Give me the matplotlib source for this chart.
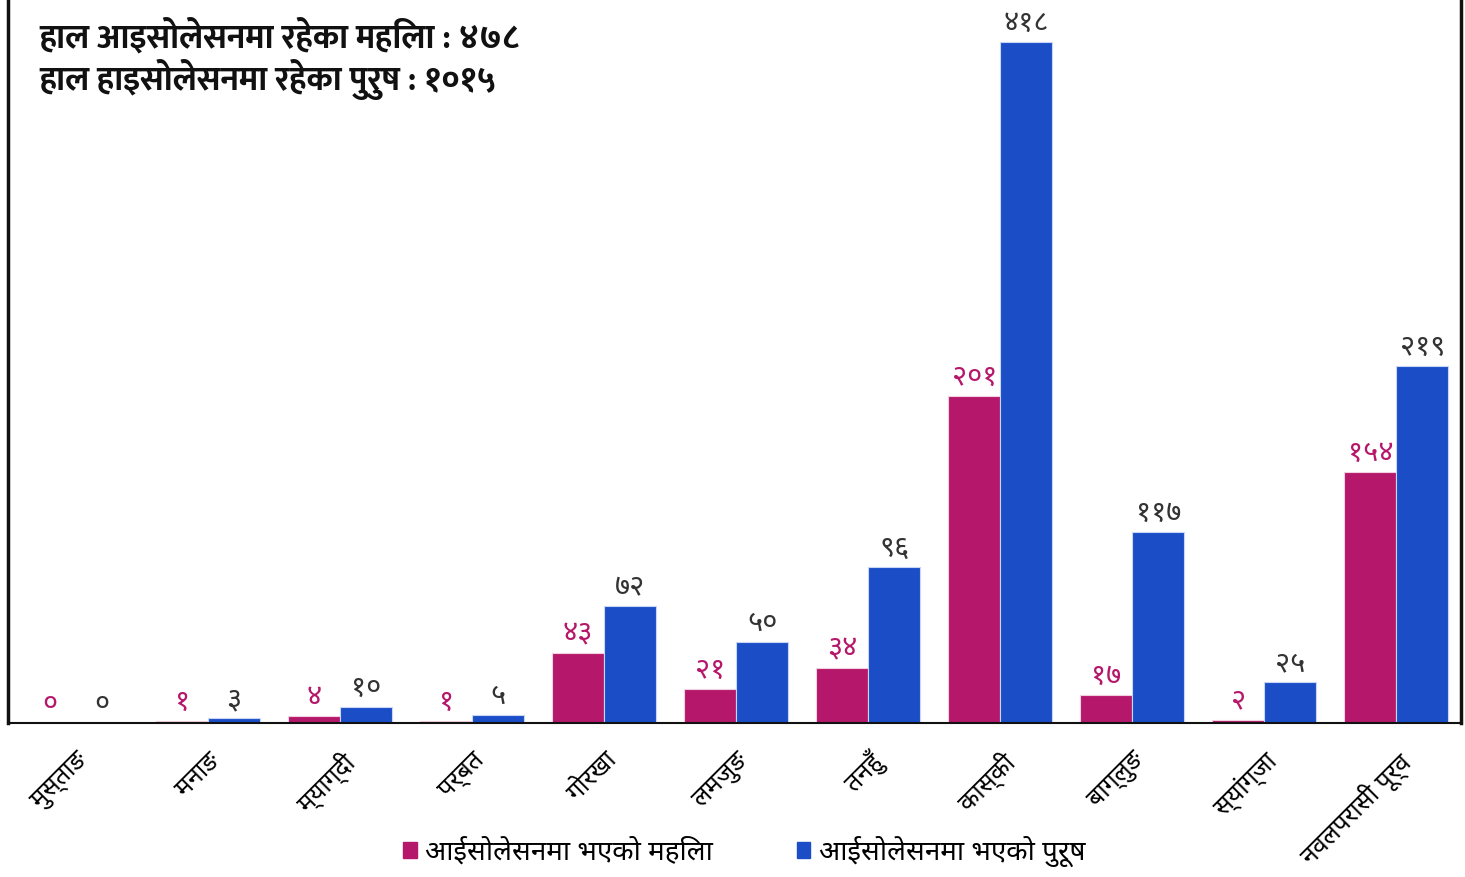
import numpy as np
import matplotlib
matplotlib.use("Agg")
import matplotlib.pyplot as plt
from matplotlib import font_manager as fm
from matplotlib.patches import Patch

districts = ["मुस्ताङ", "मनाङ", "म्याग्दी", "पर्बत", "गोरखा", "लमजुङ",
             "तनहुँ", "कास्की", "बाग्लुङ", "स्यांग्जा", "नवलपरासी पूर्व"]
women = [0, 1, 4, 1, 43, 21, 34, 201, 17, 2, 154]
men = [0, 3, 10, 5, 72, 50, 96, 418, 117, 25, 219]
title_lines = ["हाल आइसोलेसनमा रहेका महिला : ४७८",
               "हाल हाइसोलेसनमा रहेका पुरुष : १०१५"]
legend_labels = ["आईसोलेसनमा भएको महिला", "आईसोलेसनमा भएको पुरूष"]

deva_digits = str.maketrans("0123456789", "०१२३४५६७८९")

# pick installed Devanagari fonts
fonts = fm.fontManager.ttflist
names = {f.name for f in fonts}
deva = None
for cand in ["Noto Sans Devanagari", "Mukta", "Hind", "Ek Mukta", "FreeSans"]:
    if cand in names:
        deva = cand
        break
bold_names = {f.name for f in fonts if f.weight in (700, 800, "bold")}
deva_bold = deva
for cand in ["Mukta", "Hind", "Ek Mukta", "Biryani", "FreeSans"]:
    if cand in bold_names:
        deva_bold = cand
        break

plt.rcParams["font.family"] = ([deva] if deva else []) + ["DejaVu Sans"]

pink = "#b5186b"
blue = "#1b4dc7"

fig = plt.figure(figsize=(14.65, 8.77), dpi=100)
ax = fig.add_axes([0.0055, 0.1756, 0.9918, 0.8244])

x = np.arange(len(districts))
w = 0.394
ax.bar(x - w / 2, women, w, color=pink, edgecolor="#f3d0e0", linewidth=0.8)
ax.bar(x + w / 2, men, w, color=blue, edgecolor="#c9d6f5", linewidth=0.8)

for i in range(len(x)):
    ax.annotate(str(women[i]).translate(deva_digits), (x[i] - w / 2, women[i]),
                xytext=(0, 3), textcoords="offset points", ha="center", va="bottom",
                fontsize=21, color=pink)
    ax.annotate(str(men[i]).translate(deva_digits), (x[i] + w / 2, men[i]),
                xytext=(0, 3), textcoords="offset points", ha="center", va="bottom",
                fontsize=21, color="#333333")

ax.set_xlim(-0.515, 10.49)
ax.set_ylim(0, 444)
ax.set_yticks([])
ax.set_xticks(x)
ax.set_xticklabels(districts, rotation=45, ha="right", rotation_mode="anchor",
                   fontsize=18)
ax.tick_params(axis="x", length=0, pad=18)

ax.spines["top"].set_visible(False)
ax.spines["left"].set_linewidth(2.5)
ax.spines["right"].set_linewidth(2.5)
ax.spines["bottom"].set_linewidth(1.5)
for s in ["left", "right", "bottom"]:
    ax.spines[s].set_color("#111111")

tfam = ([deva_bold] if deva_bold else []) + ["DejaVu Sans"]
fig.text(0.027, 0.958, title_lines[0], fontsize=24.5, fontweight="bold",
         va="center", family=tfam, color="#111111")
fig.text(0.027, 0.909, title_lines[1], fontsize=24.5, fontweight="bold",
         va="center", family=tfam, color="#111111")

handles = [Patch(color=pink), Patch(color=blue)]
fig.legend(handles, legend_labels, loc="center", bbox_to_anchor=(0.508, 0.029),
           ncol=2, frameon=False, fontsize=20, handlelength=0.5, handleheight=0.5,
           columnspacing=3, handletextpad=0.3)

fig.savefig("out.png", dpi=100)
